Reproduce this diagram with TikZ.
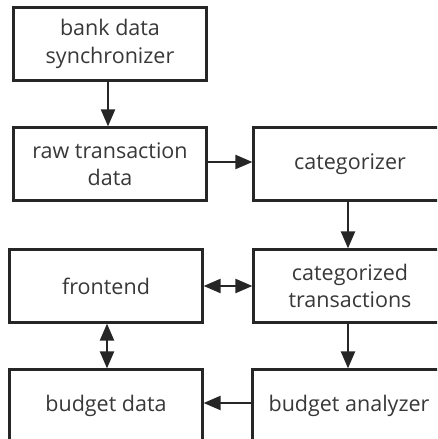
\documentclass[tikz,border=0pt]{standalone}
\usepackage{fontspec}
\setmainfont{Open Sans}
\usetikzlibrary{arrows.meta}
\definecolor{ink}{HTML}{262626}
\definecolor{txt}{HTML}{383838}
\begin{document}
\begin{tikzpicture}[x=1pt,y=1pt,
  box/.style={draw=ink, line width=2.2pt, rectangle, minimum width=193pt, minimum height=73pt,
    align=center, text=txt, font=\fontsize{21.5}{27.5}\selectfont, inner sep=0pt},
  tip/.tip={Triangle[length=17pt,width=14pt]},
  conn/.style={draw=ink, line width=2.2pt, -tip},
  conn2/.style={draw=ink, line width=2.2pt, tip-tip}]
\useasboundingbox (0,0) rectangle (437,439);
\clip (0,0) rectangle (437,439);
\node[box] (sync) at (110,395) {bank data\\synchronizer};
\node[box] (raw) at (110,275) {raw transaction\\data};
\node[box] (cat) at (350,275) {categorizer};
\node[box] (ctx) at (350,153) {categorized\\transactions};
\node[box] (front) at (106,153) {frontend};
\node[box] (bdata) at (106,33) {budget data};
\node[box] (banal) at (349,33) {budget analyzer};
\coordinate (a1) at ([xshift=-2pt]sync.south);
\coordinate (a2) at ([yshift=2pt]raw.east);
\coordinate (a3) at ([xshift=-2pt]cat.south);
\coordinate (a4) at ([xshift=1pt]front.south);
\coordinate (a5) at ([yshift=3pt]banal.west);
\draw[conn] (a1) -- (raw.north -| a1);
\draw[conn] (a2) -- (cat.west |- a2);
\draw[conn] (a3) -- (ctx.north -| a3);
\draw[conn2] (front.east) -- (ctx.west |- front.east);
\draw[conn2] (a4) -- (bdata.north -| a4);
\draw[conn] (ctx.south -| a3) -- (banal.north -| a3);
\draw[conn] (a5) -- (bdata.east |- a5);
\end{tikzpicture}
\end{document}
